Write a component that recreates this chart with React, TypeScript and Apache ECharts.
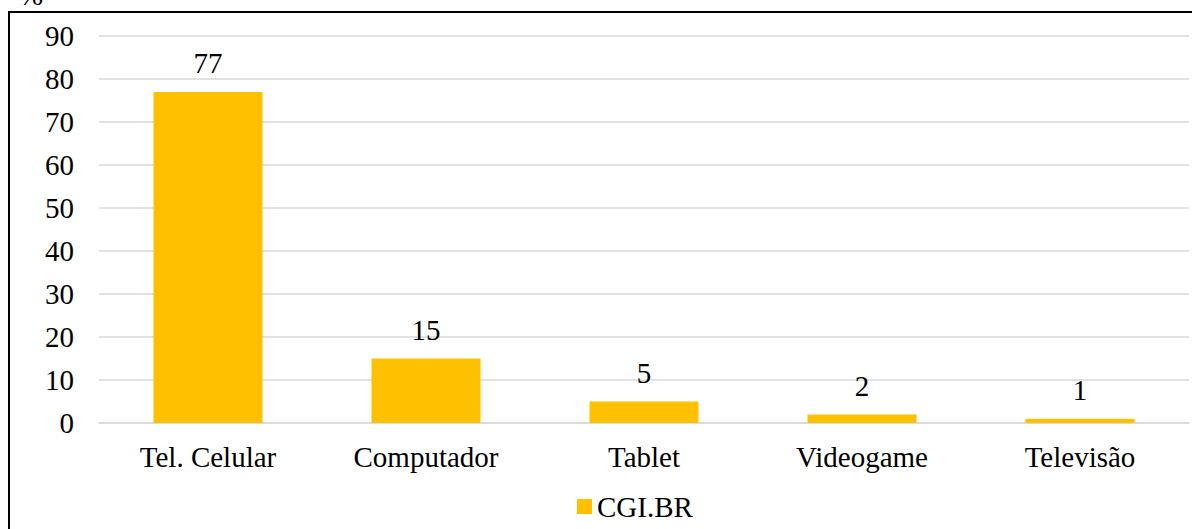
import React, { useEffect, useRef } from "react";
import * as echarts from "echarts";

const categories = ["Tel. Celular", "Computador", "Tablet", "Videogame", "Televisão"];
const values = [77, 15, 5, 2, 1];
const seriesName = "CGI.BR";
const unitLabel = "%";

const FONT = "'Liberation Serif', 'Times New Roman', serif";
const FS = 29;

export default function App() {
  const ref = useRef<HTMLDivElement>(null);
  useEffect(() => {
    if (!ref.current) return;
    const chart = echarts.init(ref.current, undefined, { renderer: "svg" });
    chart.setOption({
      animation: false,
      textStyle: { fontFamily: FONT },
      grid: { left: 99, right: 3, top: 36, bottom: 106, containLabel: false },
      legend: {
        data: [seriesName],
        left: 572,
        top: 487,
        icon: "rect",
        itemWidth: 15,
        itemHeight: 15,
        itemGap: 6,
        textStyle: { fontFamily: FONT, fontSize: FS, color: "#000" },
      },
      xAxis: {
        type: "category",
        data: categories,
        axisLine: { show: true, lineStyle: { color: "#d9d9d9", width: 1.5 } },
        axisTick: { show: false },
        axisLabel: { color: "#000", fontSize: FS, fontFamily: FONT, margin: 19 },
      },
      yAxis: {
        type: "value",
        min: 0,
        max: 90,
        interval: 10,
        axisLine: { show: false },
        axisTick: { show: false },
        splitLine: { lineStyle: { color: "#d9d9d9", width: 1.5 } },
        axisLabel: { color: "#000", fontSize: FS, fontFamily: FONT, margin: 25 },
      },
      series: [
        {
          name: seriesName,
          type: "bar",
          data: values,
          barWidth: "50%",
          itemStyle: { color: "#FFC000" },
          label: {
            show: true,
            position: "top",
            distance: 14,
            color: "#000",
            fontSize: FS,
            fontFamily: FONT,
          },
        },
      ],
      graphic: [
        {
          type: "rect",
          shape: { x: 9, y: 12, width: 1200, height: 530 },
          style: { fill: "none", stroke: "#000", lineWidth: 2 },
          silent: true,
        },
        {
          type: "text",
          x: 19,
          y: 9,
          style: {
            text: unitLabel,
            font: `${FS}px ${FONT}`,
            fill: "#000",
            verticalAlign: "bottom",
          },
        },
      ],
    });
    return () => chart.dispose();
  }, []);
  return (
    <div
      ref={ref}
      style={{ position: "absolute", left: 0, top: 0, width: 1192, height: 529, background: "#fff" }}
    />
  );
}
